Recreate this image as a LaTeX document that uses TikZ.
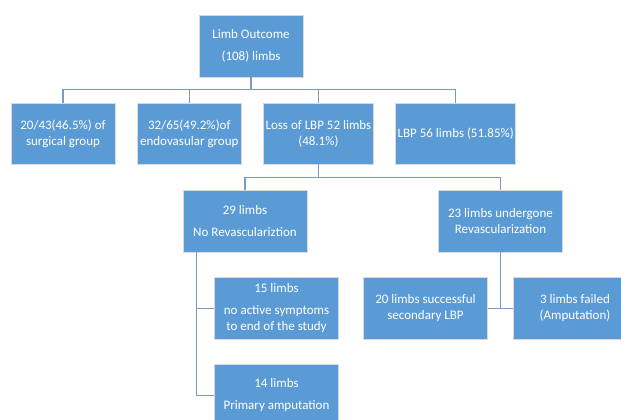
\documentclass[tikz,border=0pt]{standalone}
\usepackage{fontspec}
\setmainfont{Carlito}
\usetikzlibrary{positioning}
\definecolor{boxblue}{RGB}{91,155,213}
\definecolor{linkgray}{RGB}{125,155,190}

\begin{document}
\begin{tikzpicture}[
  x = 1pt, y = 1pt, node distance = 21.5pt,
  font = \fontsize{13}{16}\selectfont,
  box/.style  = {rectangle, draw=black!15, line width=0.8pt, fill=boxblue, text=white,
                 align=center, minimum width=104pt, minimum height=61pt, inner sep=2pt},
  wide/.style = {box, minimum width=124pt, minimum height=62pt},
  conn/.style = {draw=linkgray, line width=1.5pt}
]
\clip (0,0) rectangle (621,-420);
\node[box, minimum height=62pt] (top) at (251,-46) {Limb Outcome\\[6pt](108) limbs};
\node[box] (surg) at (63,-133.5) {20/43(46.5\%) of\\surgical group};
\node[box, right=of surg] (endo) {32/65(49.2\%)of\\endovasular group};
\node[box, right=of endo] (loss) {Loss of LBP 52 limbs\\(48.1\%)};
\node[box, right=of loss] (lbp)  {LBP 56 limbs (51.85\%)};
\node[wide] (norev) at (245,-221)   {29 limbs\\[6pt]No Revasculariztion};
\node[wide] (rev)   at (500.5,-221) {23 limbs undergone\\Revascularization};
\node[wide] (sympt) at (276.5,-308.5) {15 limbs\\[6pt]no active symptoms\\to end of the study};
\node[wide] (prim)  at (276.5,-395.5) {14 limbs\\[6pt]Primary amputation};
\node[wide] (succ)  at (425.5,-308.5) {20 limbs successful\\secondary LBP};
\node[wide] (fail)  at (575,-308.5)   {3 limbs failed\\(Amputation)};
% first level
\draw[conn] (top.south) -- ++(0,-12) -| (surg.north);
\draw[conn] (top.south) -- ++(0,-12) -| (endo.north);
\draw[conn] (top.south) -- ++(0,-12) -| (loss.north);
\draw[conn] (top.south) -- ++(0,-12) -| (lbp.north);
% loss of LBP
\draw[conn] (loss.south) -- ++(0,-13) -| (norev.north);
\draw[conn] (loss.south) -- ++(0,-13) -| (rev.north);
% no revascularization
\draw[conn] ([xshift=14pt]norev.south west) |- (sympt.west);
\draw[conn] ([xshift=14pt]norev.south west) |- (prim.west);
% revascularization
\draw[conn] (rev.south) -- (rev.south |- succ.east);
\draw[conn] (succ.east) -- (fail.west);
\end{tikzpicture}
\end{document}
